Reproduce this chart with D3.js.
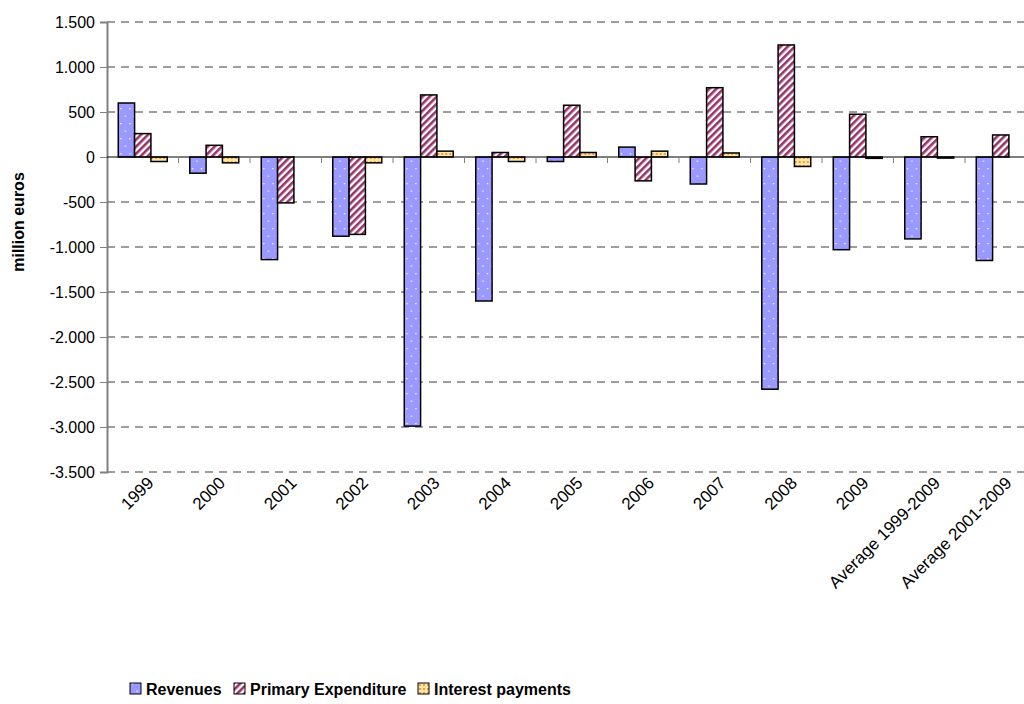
<!DOCTYPE html>
<html>
<head>
<meta charset="utf-8">
<script src="https://cdn.jsdelivr.net/npm/d3@7"></script>
<style>
  body { margin: 0; background: #fff; }
  svg { display: block; font-family: "Liberation Sans", Arial, sans-serif; }
</style>
</head>
<body>
<div id="chart"></div>
<script>
// chart data (million euros)
const categories = ["1999","2000","2001","2002","2003","2004","2005","2006","2007","2008","2009",
                    "Average 1999-2009","Average 2001-2009"];
const revenues    = [600, -180, -1140, -880, -2990, -1600, -50, 110, -300, -2580, -1030, -910, -1150];
const primaryExp  = [260, 130, -510, -860, 690, 50, 575, -265, 770, 1245, 475, 225, 245];
const interestPay = [-50, -65, 0, -65, 65, -50, 50, 65, 45, -105, -15, -12, 0];
const seriesNames = ["Revenues", "Primary Expenditure", "Interest payments"];
const yTicks = [1500, 1000, 500, 0, -500, -1000, -1500, -2000, -2500, -3000, -3500];

const width = 1024, height = 704;
// plot area runs a bit past the right edge of the picture, like the source
const margin = {top: 22, left: 107, plotRight: 1036.5, bottom: 472};

const svg = d3.select("#chart").append("svg")
  .attr("width", width)
  .attr("height", height);

// patterns for the three series
const defs = svg.append("defs");

let pRev = defs.append("pattern")
  .attr("id", "pat-rev")
  .attr("patternUnits", "userSpaceOnUse")
  .attr("width", 9).attr("height", 15);
pRev.append("rect").attr("width", 9).attr("height", 15).attr("fill", "#9999FF");
pRev.append("rect").attr("x", 2).attr("y", 3).attr("width", 1.3).attr("height", 1.3).attr("fill", "#fff");
pRev.append("rect").attr("x", 6.5).attr("y", 10.5).attr("width", 1.3).attr("height", 1.3).attr("fill", "#fff");

let pExp = defs.append("pattern")
  .attr("id", "pat-exp")
  .attr("patternUnits", "userSpaceOnUse")
  .attr("width", 5).attr("height", 5)
  .attr("patternTransform", "rotate(45)");
pExp.append("rect").attr("width", 5).attr("height", 5).attr("fill", "#fff");
pExp.append("rect").attr("width", 2.6).attr("height", 5).attr("fill", "#993366");

let pInt = defs.append("pattern")
  .attr("id", "pat-int")
  .attr("patternUnits", "userSpaceOnUse")
  .attr("width", 4).attr("height", 4);
pInt.append("rect").attr("width", 4).attr("height", 4).attr("fill", "#FFE6A6");
pInt.append("rect").attr("x", 1).attr("y", 1).attr("width", 2).attr("height", 2).attr("fill", "#E5A04A");

const fills = ["url(#pat-rev)", "url(#pat-exp)", "url(#pat-int)"];

// scales
const x = d3.scaleBand()
  .domain(categories)
  .range([margin.left, margin.plotRight])
  .paddingInner(0.315)
  .paddingOuter(0.1575);

const xs = d3.scaleBand()
  .domain(seriesNames)
  .range([0, x.bandwidth()])
  .padding(0);

const y = d3.scaleLinear()
  .domain([-3500, 1500])
  .range([margin.bottom, margin.top]);

// gridlines
svg.append("g")
  .selectAll("line")
  .data(yTicks.filter(d => d !== 0))
  .join("line")
    .attr("x1", margin.left)
    .attr("x2", width)
    .attr("y1", d => y(d))
    .attr("y2", d => y(d))
    .attr("stroke", "#3c3c3c")
    .attr("stroke-width", 1)
    .attr("stroke-dasharray", "8,6");

// bars
const rows = categories.map((c, i) => ({cat: c, vals: [revenues[i], primaryExp[i], interestPay[i]]}));

svg.append("g")
  .selectAll("g")
  .data(rows)
  .join("g")
    .attr("transform", d => `translate(${x(d.cat)},0)`)
  .selectAll("rect")
  .data(d => d.vals.map((v, k) => ({name: seriesNames[k], value: v, k: k})).filter(e => e.value !== 0))
  .join("rect")
    .attr("x", d => xs(d.name))
    .attr("width", xs.bandwidth())
    .attr("y", d => y(Math.max(0, d.value)))
    .attr("height", d => Math.abs(y(d.value) - y(0)))
    .attr("fill", d => fills[d.k])
    .attr("stroke", "#000")
    .attr("stroke-width", 1.5);

// y axis, dot as thousands separator and a plain hyphen for minus
const fmt = d3.formatLocale({decimal: ",", thousands: ".", grouping: [3], currency: ["", "€"], minus: "-"}).format(",");
const yAxis = svg.append("g")
  .attr("transform", `translate(${margin.left},0)`)
  .call(d3.axisLeft(y)
    .tickValues(yTicks)
    .tickSize(7)
    .tickPadding(5)
    .tickFormat(fmt));
yAxis.select(".domain").attr("stroke", "#808080").attr("stroke-width", 2);
yAxis.selectAll(".tick line").attr("stroke", "#808080");
yAxis.selectAll(".tick text")
  .attr("font-size", 16)
  .attr("fill", "#000")
  .attr("font-family", "Liberation Sans, Arial, sans-serif");

// x axis on the zero line, ticks between categories
const xAxisG = svg.append("g");
xAxisG.append("line")
  .attr("x1", margin.left).attr("x2", width)
  .attr("y1", y(0)).attr("y2", y(0))
  .attr("stroke", "#000").attr("stroke-width", 1.2);
xAxisG.selectAll(".sep")
  .data(categories.slice(1))
  .join("line")
    .attr("class", "sep")
    .attr("x1", d => x(d) - x.step() * x.paddingInner() / 2)
    .attr("x2", d => x(d) - x.step() * x.paddingInner() / 2)
    .attr("y1", y(0))
    .attr("y2", y(0) + 6)
    .attr("stroke", "#808080");

// category labels along the bottom, rotated
svg.append("g")
  .selectAll("text")
  .data(categories)
  .join("text")
    .attr("transform", d => `translate(${x(d) + x.bandwidth() / 2 + 12},${margin.bottom + 12}) rotate(-45)`)
    .attr("text-anchor", "end")
    .attr("font-size", 17)
    .text(d => d);

// y axis title
svg.append("text")
  .attr("transform", `translate(24,${(margin.top + margin.bottom) / 2 - 25}) rotate(-90)`)
  .attr("text-anchor", "middle")
  .attr("font-size", 16)
  .attr("font-weight", "bold")
  .text("million euros");

// legend
const legendX = [130, 234, 418];
const legend = svg.append("g")
  .selectAll("g")
  .data(seriesNames)
  .join("g")
    .attr("transform", (d, i) => `translate(${legendX[i]},695)`);
legend.append("rect")
  .attr("x", 0).attr("y", -12)
  .attr("width", 11).attr("height", 11)
  .attr("fill", (d, i) => fills[i])
  .attr("stroke", "#000")
  .attr("stroke-width", 1);
legend.append("text")
  .attr("x", 16)
  .attr("y", 0)
  .attr("font-size", 16)
  .attr("font-weight", "bold")
  .text(d => d);
</script>
</body>
</html>
